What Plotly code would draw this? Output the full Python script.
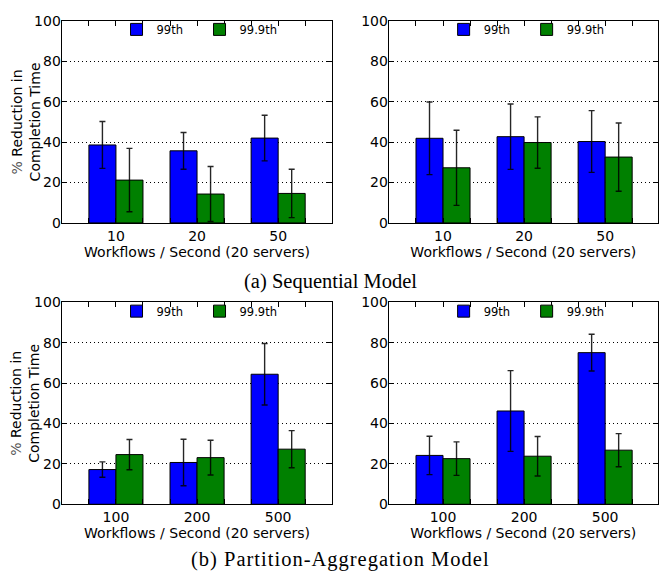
import plotly.graph_objects as go

# ---------------- data ----------------
seq_cats = ["10", "20", "50"]
pa_cats = ["100", "200", "500"]
series_names = ["99th", "99.9th"]

seq_left_99 = [38.6, 35.7, 42.0]
seq_left_99_err = [11.6, 9.1, 11.3]
seq_left_999 = [21.2, 14.3, 14.6]
seq_left_999_err = [15.7, 13.6, 12.0]

seq_right_99 = [41.9, 42.7, 40.3]
seq_right_99_err = [18.0, 16.2, 15.3]
seq_right_999 = [27.3, 39.8, 32.6]
seq_right_999_err = [18.6, 12.7, 16.9]

pa_left_99 = [17.2, 20.7, 64.4]
pa_left_99_err = [3.8, 11.5, 15.2]
pa_left_999 = [24.6, 23.1, 27.3]
pa_left_999_err = [7.5, 8.6, 9.2]

pa_right_99 = [24.2, 46.2, 75.1]
pa_right_99_err = [9.5, 20.0, 9.1]
pa_right_999 = [22.6, 23.8, 26.8]
pa_right_999_err = [8.3, 9.8, 8.2]

y_ticks = [0, 20, 40, 60, 80, 100]
x_title = "Workflows / Second (20 servers)"
y_title = "<span style='color:#555'>%</span> Reduction in<br>Completion Time"
captions = ["(a) Sequential Model",
            "<span style='letter-spacing:1px'>(b) Partition-Aggregation Model</span>"]

# ---------------- layout geometry (pixels) ----------------
W, H = 659, 582
BLUE, GREEN = "#0000ff", "#008000"
FONT = "DejaVu Sans"

def px_x(p):
    return p / W

def px_y(p):
    return 1 - p / H

panels = [
    dict(cats=seq_cats, v=[seq_left_99, seq_left_999], e=[seq_left_99_err, seq_left_999_err],
         xd=(61.7, 333.0), yd=(13.3, 221.0), xr=(-0.67, 2.67), ylab=True, leg_y=22.0),
    dict(cats=seq_cats, v=[seq_right_99, seq_right_999], e=[seq_right_99_err, seq_right_999_err],
         xd=(389.3, 659.0), yd=(13.3, 221.0), xr=(-0.67, 2.652), ylab=False, leg_y=22.0),
    dict(cats=pa_cats, v=[pa_left_99, pa_left_999], e=[pa_left_99_err, pa_left_999_err],
         xd=(61.7, 333.0), yd=(302.7, 510.3), xr=(-0.67, 2.67), ylab=True, leg_y=311.7),
    dict(cats=pa_cats, v=[pa_right_99, pa_right_999], e=[pa_right_99_err, pa_right_999_err],
         xd=(389.3, 659.0), yd=(302.7, 510.3), xr=(-0.67, 2.652), ylab=False, leg_y=311.7),
]

fig = go.Figure()
layout = dict(
    width=W, height=H, margin=dict(l=0, r=0, t=0, b=0),
    paper_bgcolor="white", plot_bgcolor="white",
    barmode="group", bargap=1/3, bargroupgap=0,
    font=dict(family=FONT, size=14, color="black"),
    annotations=[],
)

for i, p in enumerate(panels):
    n = "" if i == 0 else str(i + 1)
    xa, ya = "x" + n, "y" + n
    leg = "legend" + n
    idx = list(range(len(p["cats"])))
    for s, col in enumerate([BLUE, GREEN]):
        fig.add_trace(go.Bar(
            x=idx, y=p["v"][s], name=series_names[s],
            marker=dict(color=col, line=dict(color="black", width=1)),
            error_y=dict(type="data", array=p["e"][s], color="rgba(0,0,0,0.85)",
                         thickness=1.4, width=3),
            xaxis=xa, yaxis=ya, legend=leg, offsetgroup=str(s),
        ))
    # ticks at every bar edge, labels at group centres
    tickvals, ticktext = [], []
    for gi, c in enumerate(p["cats"]):
        for k in (-1, 0, 1):
            v = gi + k / 3
            if not tickvals or abs(tickvals[-1] - v) > 1e-6:
                tickvals.append(v)
                ticktext.append(c if k == 0 else "")
    layout["xaxis" + n] = dict(
        domain=[px_x(p["xd"][0]), px_x(p["xd"][1])], range=list(p["xr"]),
        anchor=ya, tickvals=tickvals, ticktext=ticktext,
        ticks="inside", ticklen=5, tickcolor="black", mirror="ticks",
        showline=True, linecolor="black", linewidth=1,
        showgrid=False, zeroline=False,
        tickfont=dict(size=14, family=FONT, color="black"),
        title=dict(text=x_title, font=dict(size=14, family=FONT, color="black"), standoff=4),
    )
    layout["yaxis" + n] = dict(
        domain=[px_y(p["yd"][1]), px_y(p["yd"][0])], range=[0, 100],
        anchor=xa, tickvals=y_ticks,
        ticks="inside", ticklen=5, tickcolor="black", mirror="ticks",
        showline=True, linecolor="black", linewidth=1,
        showgrid=True, gridcolor="black", griddash="1px,3px", gridwidth=1,
        zeroline=False, ticklabelstandoff=-3,
        tickfont=dict(size=14, family=FONT, color="black"),
    )
    layout[leg] = dict(
        x=px_x(p["xd"][0] + 55), y=px_y(p["leg_y"]),
        xanchor="left", yanchor="middle",
        orientation="h", bgcolor="rgba(0,0,0,0)",
        font=dict(size=11.5, family=FONT, color="black"),
        itemwidth=30, entrywidth=38, entrywidthmode="pixels",
    )
    if p["ylab"]:
        layout["annotations"].append(dict(
            text=y_title, textangle=-90, showarrow=False,
            xref="paper", yref="paper", x=px_x(25.5),
            y=px_y((p["yd"][0] + p["yd"][1]) / 2),
            xanchor="center", yanchor="middle",
            font=dict(size=14, family=FONT, color="black"),
        ))

for cap, cx, cy in zip(captions, [331.5, 341.4], [281.5, 567.0]):
    layout["annotations"].append(dict(
        text=cap, showarrow=False, xref="paper", yref="paper",
        x=px_x(cx), y=px_y(cy), xanchor="center", yanchor="middle",
        font=dict(size=20.5, family="Liberation Serif", color="black"),
    ))

fig.update_layout(**layout)
fig.write_html("out.html")
